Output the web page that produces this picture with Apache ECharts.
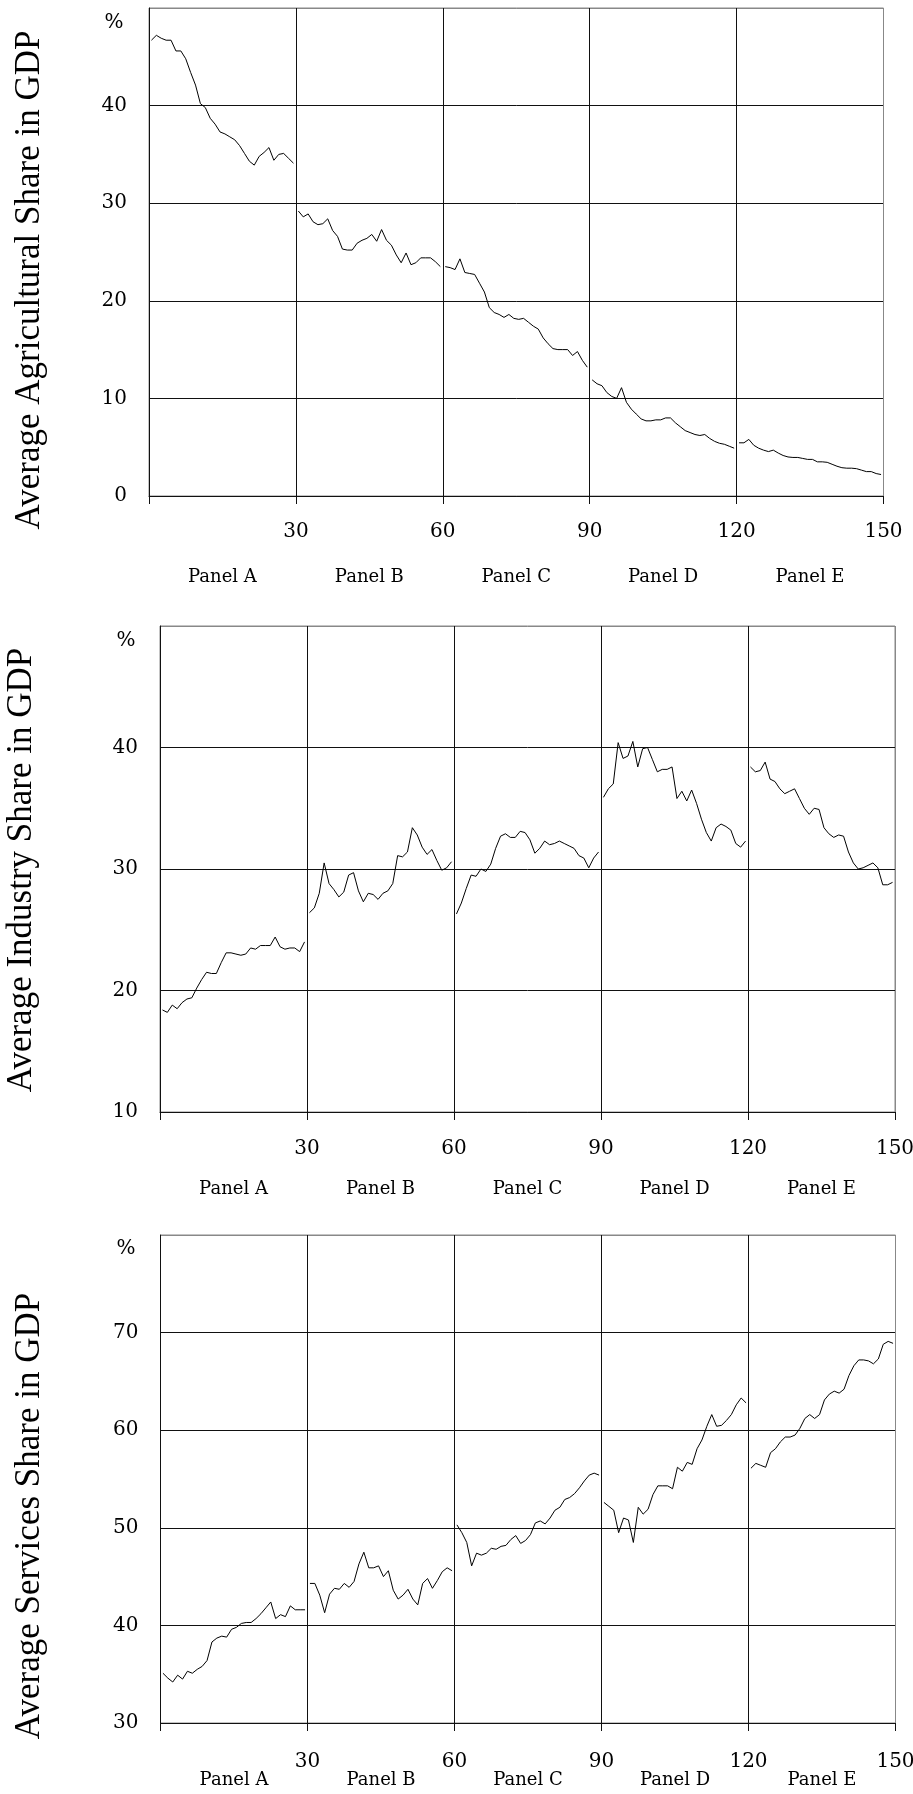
<!DOCTYPE html>
<html>
<head>
<meta charset="utf-8">
<script src="https://cdn.jsdelivr.net/npm/echarts@6/dist/echarts.min.js"></script>
<style>
  html, body { margin: 0; padding: 0; background: #fff; }
  #chart { width: 913px; height: 1794px; }
</style>
</head>
<body>
<div id="chart"></div>
<script>
const panelNames = ['Panel A', 'Panel B', 'Panel C', 'Panel D', 'Panel E']

// agriculture share in GDP, 30 countries per panel
const agriA = [46.7, 47.2, 46.9, 46.7, 46.7, 45.6, 45.6, 44.8, 43.4, 42.1, 40.2, 39.8, 38.7, 38.1, 37.3, 37.1, 36.8, 36.5, 35.9, 35.1, 34.3, 33.9, 34.8, 35.2, 35.7, 34.4, 35.0, 35.1, 34.6, 34.1]
const agriB = [29.2, 28.6, 28.9, 28.1, 27.8, 27.9, 28.4, 27.2, 26.6, 25.3, 25.2, 25.2, 25.9, 26.2, 26.4, 26.8, 26.1, 27.3, 26.2, 25.7, 24.7, 23.9, 24.9, 23.7, 23.9, 24.4, 24.4, 24.4, 24.0, 23.5]
const agriC = [23.5, 23.4, 23.2, 24.3, 22.9, 22.8, 22.7, 21.8, 20.9, 19.3, 18.8, 18.6, 18.3, 18.6, 18.2, 18.1, 18.2, 17.8, 17.4, 17.1, 16.2, 15.6, 15.1, 15.0, 15.0, 15.0, 14.4, 14.8, 13.9, 13.2]
const agriD = [11.9, 11.5, 11.3, 10.6, 10.2, 10.0, 11.1, 9.6, 8.9, 8.4, 7.9, 7.7, 7.7, 7.8, 7.8, 8.0, 8.0, 7.5, 7.1, 6.7, 6.5, 6.3, 6.2, 6.3, 5.9, 5.6, 5.4, 5.3, 5.1, 4.9]
const agriE = [5.45, 5.45, 5.8, 5.2, 4.9, 4.7, 4.55, 4.7, 4.4, 4.15, 4.0, 3.95, 3.95, 3.85, 3.75, 3.75, 3.5, 3.5, 3.45, 3.25, 3.05, 2.9, 2.85, 2.85, 2.8, 2.65, 2.5, 2.5, 2.3, 2.2]

// industry share in GDP
const indA = [18.4, 18.2, 18.8, 18.5, 19.0, 19.3, 19.4, 20.2, 20.9, 21.5, 21.4, 21.4, 22.3, 23.1, 23.1, 23.0, 22.9, 23.0, 23.5, 23.4, 23.7, 23.7, 23.7, 24.4, 23.6, 23.4, 23.5, 23.5, 23.2, 24.0]
const indB = [26.4, 26.8, 28.0, 30.5, 28.8, 28.3, 27.7, 28.1, 29.5, 29.7, 28.2, 27.3, 28.0, 27.9, 27.5, 28.0, 28.2, 28.8, 31.1, 31.0, 31.4, 33.4, 32.8, 31.8, 31.2, 31.6, 30.7, 29.9, 30.1, 30.6]
const indC = [26.3, 27.2, 28.4, 29.5, 29.4, 30.0, 29.8, 30.4, 31.7, 32.7, 32.9, 32.6, 32.6, 33.1, 33.0, 32.4, 31.3, 31.7, 32.3, 32.0, 32.1, 32.3, 32.1, 31.9, 31.7, 31.1, 30.9, 30.1, 30.9, 31.4]
const indD = [35.9, 36.6, 37.0, 40.4, 39.1, 39.3, 40.5, 38.4, 39.9, 40.0, 39.0, 38.0, 38.2, 38.2, 38.4, 35.8, 36.4, 35.6, 36.5, 35.4, 34.1, 33.0, 32.3, 33.4, 33.7, 33.5, 33.2, 32.1, 31.8, 32.3]
const indE = [38.4, 38.0, 38.1, 38.8, 37.4, 37.2, 36.6, 36.2, 36.4, 36.6, 35.8, 35.0, 34.5, 35.0, 34.9, 33.4, 32.9, 32.6, 32.8, 32.7, 31.4, 30.5, 30.0, 30.1, 30.3, 30.5, 30.1, 28.7, 28.7, 28.9]

// services share in GDP
const servA = [35.1, 34.6, 34.2, 34.9, 34.5, 35.3, 35.1, 35.5, 35.8, 36.4, 38.3, 38.7, 38.9, 38.8, 39.6, 39.8, 40.2, 40.3, 40.3, 40.7, 41.2, 41.8, 42.4, 40.7, 41.1, 40.9, 42.0, 41.6, 41.6, 41.6]
const servB = [44.3, 44.3, 43.1, 41.3, 43.2, 43.8, 43.7, 44.3, 43.9, 44.5, 46.3, 47.5, 45.9, 45.9, 46.1, 45.0, 45.6, 43.6, 42.7, 43.1, 43.7, 42.7, 42.1, 44.3, 44.8, 43.8, 44.6, 45.5, 45.9, 45.6]
const servC = [50.3, 49.5, 48.5, 46.1, 47.4, 47.2, 47.4, 47.9, 47.8, 48.1, 48.2, 48.8, 49.2, 48.4, 48.7, 49.3, 50.5, 50.7, 50.4, 51.0, 51.8, 52.1, 52.9, 53.1, 53.5, 54.1, 54.8, 55.4, 55.6, 55.4]
const servD = [52.6, 52.2, 51.8, 49.5, 51.0, 50.8, 48.5, 52.1, 51.4, 51.9, 53.4, 54.3, 54.3, 54.3, 54.0, 56.2, 55.8, 56.7, 56.5, 58.1, 59.0, 60.4, 61.6, 60.4, 60.5, 61.0, 61.6, 62.6, 63.3, 62.8]
const servE = [56.1, 56.6, 56.4, 56.2, 57.7, 58.1, 58.8, 59.3, 59.3, 59.5, 60.2, 61.2, 61.6, 61.2, 61.6, 63.1, 63.7, 64.0, 63.8, 64.2, 65.6, 66.6, 67.2, 67.2, 67.1, 66.8, 67.3, 68.8, 69.1, 68.9]

const charts = [
  {title: 'Average Agricultural Share in GDP', panels: [agriA, agriB, agriC, agriD, agriE], min: 0, max: 50,
   grid: {left: 149, top: 8, width: 734.5, height: 488}, tickMargin: 26, panelMargin: 72, pct: [114, 23], titlePos: [30, 280]},
  {title: 'Average Industry Share in GDP', panels: [indA, indB, indC, indD, indE], min: 10, max: 50,
   grid: {left: 160, top: 626, width: 735, height: 486}, tickMargin: 27, panelMargin: 68, pct: [126, 641], titlePos: [22, 870]},
  {title: 'Average Services Share in GDP', panels: [servA, servB, servC, servD, servE], min: 30, max: 80,
   grid: {left: 160.5, top: 1235, width: 735, height: 488}, tickMargin: 29, panelMargin: 48, pct: [126, 1249], titlePos: [30, 1516]}
]

const serif = 'DejaVu Serif'
const black = '#111'
const grey = '#888'

const grid = [], xAxis = [], yAxis = [], series = [], graphic = []

charts.forEach((c, g) => {
  grid.push(Object.assign({show: true, borderColor: grey, borderWidth: 1, containLabel: false, outerBoundsMode: 'none'}, c.grid))

  // value axis for the country positions 0..150
  xAxis.push({
    type: 'value', gridIndex: g, min: 0, max: 150, interval: 30,
    axisLine: {show: true, lineStyle: {color: black, width: 1}},
    axisTick: {show: true, length: 8, lineStyle: {color: black}},
    axisLabel: {color: '#000', fontFamily: serif, fontSize: 20, margin: c.tickMargin,
      formatter: v => v === 0 ? '' : String(v)},
    splitLine: {show: true, lineStyle: {color: [black, black, black, black, black, grey], width: 1}}
  })
  // panel names under each 30-wide block
  xAxis.push({
    type: 'category', gridIndex: g, data: panelNames, position: 'bottom',
    axisLine: {show: false}, axisTick: {show: false}, splitLine: {show: false},
    axisLabel: {color: '#000', fontFamily: serif, fontSize: 18, margin: c.panelMargin, interval: 0}
  })

  const nLines = (c.max - c.min) / 10 + 1
  const yColors = []
  for (let i = 0; i < nLines; i++) yColors.push(i === nLines - 1 ? grey : black)
  yAxis.push({
    type: 'value', gridIndex: g, min: c.min, max: c.max, interval: 10,
    axisLine: {show: true, lineStyle: {color: black, width: 1}},
    axisTick: {show: false},
    axisLabel: {color: '#000', fontFamily: serif, fontSize: 20, margin: 22, showMaxLabel: false},
    splitLine: {show: true, lineStyle: {color: yColors, width: 1}}
  })

  c.panels.forEach((vals, p) => {
    series.push({
      type: 'line', xAxisIndex: 2 * g, yAxisIndex: g,
      data: vals.map((v, i) => [p * 30 + i + 0.5, v]),
      symbol: 'none', silent: true,
      lineStyle: {color: '#000', width: 1}
    })
  })

  graphic.push({
    type: 'text', x: c.pct[0], y: c.pct[1],
    style: {text: '%', font: '20px "DejaVu Serif"', fill: '#000', textAlign: 'center', textVerticalAlign: 'middle'}
  })
  graphic.push({
    type: 'text', x: c.titlePos[0], y: c.titlePos[1], rotation: Math.PI / 2,
    style: {text: c.title, font: '35px "Liberation Serif"', fill: '#000', textAlign: 'center', textVerticalAlign: 'middle'}
  })
})

const chart = echarts.init(document.getElementById('chart'))
chart.setOption({
  animation: false,
  backgroundColor: '#fff',
  grid: grid,
  xAxis: xAxis,
  yAxis: yAxis,
  series: series,
  graphic: graphic
})
</script>
</body>
</html>
